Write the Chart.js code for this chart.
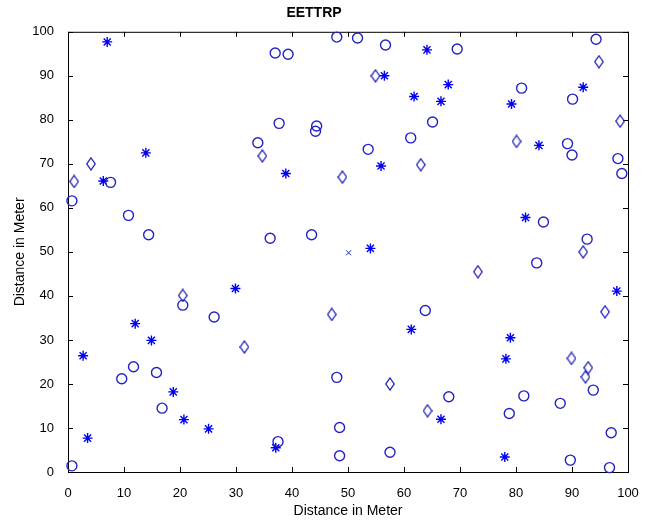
<!DOCTYPE html>
<html>
<head>
<meta charset="utf-8">
<script src="https://cdn.jsdelivr.net/npm/chart.js@4.4.1/dist/chart.umd.min.js"></script>
<style>
  body { margin: 0; background: #fff; }
  #wrap { width: 658px; height: 520px; }
</style>
</head>
<body>
<div id="wrap"><canvas id="myChart" width="658" height="520"></canvas></div>
<script>
// node positions, [x, y] in meters
var circleNodes = [
    [0.7, 1.4], [0.7, 61.6], [7.6, 65.8], [10.8, 58.3], [14.4, 53.9], [9.6, 21.2],
    [11.7, 23.9], [15.8, 22.6], [16.8, 14.5], [20.5, 37.9], [26.1, 35.2], [33.9, 74.8],
    [36.1, 53.1], [37.0, 95.2], [39.3, 94.9], [37.7, 79.2], [37.5, 6.9], [43.5, 53.9],
    [44.4, 78.6], [44.2, 77.4], [48.0, 98.8], [51.7, 98.6], [56.7, 97.0], [48.0, 21.5],
    [48.5, 10.1], [48.5, 3.7], [53.6, 73.3], [57.5, 4.5], [61.2, 75.9], [63.8, 36.7],
    [65.1, 79.5], [68.0, 17.1], [69.5, 96.1], [78.8, 13.3], [81.0, 87.2], [81.4, 17.3],
    [83.7, 47.5], [84.9, 56.8], [87.9, 15.6], [89.2, 74.6], [89.7, 2.7], [90.0, 72.0],
    [90.1, 84.7], [92.7, 52.9], [93.8, 18.6], [94.3, 98.3], [96.7, 1.0], [97.0, 8.9],
    [98.2, 71.2], [98.9, 67.8]
];
var diamondNodes = [
    [1.1, 66.0], [4.1, 70.0], [20.5, 40.1], [31.5, 28.4], [34.7, 71.8], [47.1, 35.8],
    [49.0, 67.0], [54.9, 90.0], [57.5, 20.0], [63.0, 69.8], [64.2, 13.9], [73.2, 45.5],
    [80.1, 75.1], [89.9, 25.8], [92.0, 50.0], [92.9, 23.7], [92.4, 21.6], [94.8, 93.2],
    [95.9, 36.4], [98.6, 79.7]
];
var starNodes = [
    [7.0, 97.7], [13.9, 72.5], [6.3, 66.1], [2.7, 26.4], [3.5, 7.7], [12.0, 33.7],
    [14.9, 29.9], [18.8, 18.2], [20.7, 11.9], [25.1, 9.8], [29.9, 41.7], [37.1, 5.5],
    [38.9, 67.8], [54.0, 50.8], [55.9, 69.5], [56.5, 90.0], [61.3, 32.4], [61.8, 85.3],
    [64.1, 95.9], [66.6, 84.2], [66.6, 12.0], [67.9, 88.0], [78.0, 3.4], [78.2, 25.7],
    [79.0, 30.5], [79.2, 83.6], [81.7, 57.8], [84.1, 74.2], [92.0, 87.4], [98.0, 41.1]
];
var sinkNode = [[50.1, 49.8]];
var tickValues = [0, 10, 20, 30, 40, 50, 60, 70, 80, 90, 100];

function toPoints(list) {
    return list.map(function (p) { return { x: p[0], y: p[1] }; });
}

// tall thin diamond like the matlab 'd' marker
var diamond = document.createElement('canvas');
diamond.width = 10;
diamond.height = 14;
var dc = diamond.getContext('2d');
dc.strokeStyle = '#1c1cb8';
dc.lineWidth = 1.3;
dc.beginPath();
dc.moveTo(5, 1);
dc.lineTo(9.2, 7);
dc.lineTo(5, 13);
dc.lineTo(0.8, 7);
dc.closePath();
dc.stroke();

// box round the plot with ticks pointing inwards, on all four sides
var boxAxes = {
    id: 'boxAxes',
    beforeDatasetsDraw: function (chart) {
        var ctx = chart.ctx, a = chart.chartArea;
        var xs = chart.scales.x, ys = chart.scales.y;
        var len = 5;
        ctx.save();
        ctx.strokeStyle = '#000';
        ctx.lineWidth = 1;
        ctx.strokeRect(a.left + 0.5, a.top + 0.5, a.right - a.left, a.bottom - a.top);
        ctx.beginPath();
        tickValues.forEach(function (v) {
            var px = Math.round(xs.getPixelForValue(v)) + 0.5;
            ctx.moveTo(px, a.bottom); ctx.lineTo(px, a.bottom - len);
            ctx.moveTo(px, a.top); ctx.lineTo(px, a.top + len);
            var py = Math.round(ys.getPixelForValue(v)) + 0.5;
            ctx.moveTo(a.left, py); ctx.lineTo(a.left + len, py);
            ctx.moveTo(a.right, py); ctx.lineTo(a.right - len, py);
        });
        ctx.stroke();
        ctx.restore();
    }
};

var ctx = document.getElementById('myChart').getContext('2d');
var myChart = new Chart(ctx, {
    type: 'scatter',
    data: {
        datasets: [
            {
                data: toPoints(circleNodes),
                pointStyle: 'circle',
                pointRadius: 5,
                borderColor: '#2222c4',
                backgroundColor: 'rgba(0,0,0,0)',
                borderWidth: 1.4,
                clip: false
            },
            {
                data: toPoints(diamondNodes),
                pointStyle: diamond,
                pointRadius: 7,
                clip: false
            },
            {
                data: toPoints(starNodes),
                pointStyle: 'star',
                pointRadius: 5,
                borderColor: '#0000f0',
                backgroundColor: '#0000f0',
                borderWidth: 1.4,
                clip: false
            },
            {
                data: toPoints(sinkNode),
                pointStyle: 'crossRot',
                pointRadius: 3.5,
                borderColor: '#2222c4',
                borderWidth: 1,
                clip: false
            }
        ]
    },
    plugins: [boxAxes],
    options: {
        responsive: false,
        animation: false,
        layout: { padding: { left: 0, right: 30, top: 0, bottom: 0 } },
        plugins: {
            legend: { display: false },
            tooltip: { enabled: false },
            title: {
                display: true,
                text: 'EETTRP',
                color: '#000',
                font: { family: 'Liberation Sans', size: 14, weight: 'bold' },
                padding: { top: 5, bottom: 10 }
            }
        },
        scales: {
            x: {
                min: 0,
                max: 100,
                grid: { display: false },
                border: { display: false },
                afterBuildTicks: function (s) { s.ticks = tickValues.map(function (v) { return { value: v }; }); },
                afterFit: function (s) { s.height = 48; },
                ticks: {
                    color: '#000',
                    padding: 6,
                    maxRotation: 0,
                    font: { family: 'Liberation Sans', size: 13 }
                },
                title: {
                    display: true,
                    text: 'Distance in Meter',
                    color: '#000',
                    padding: { top: 2, bottom: 0 },
                    font: { family: 'Liberation Sans', size: 14 }
                }
            },
            y: {
                min: 0,
                max: 100,
                grid: { display: false },
                border: { display: false },
                afterBuildTicks: function (s) { s.ticks = tickValues.map(function (v) { return { value: v }; }); },
                afterFit: function (s) { s.width = 68; },
                ticks: {
                    color: '#000',
                    padding: 6,
                    font: { family: 'Liberation Sans', size: 13 }
                },
                title: {
                    display: true,
                    text: 'Distance in Meter',
                    color: '#000',
                    padding: { top: 12, bottom: 0 },
                    font: { family: 'Liberation Sans', size: 14 }
                }
            }
        }
    }
});
</script>
</body>
</html>
